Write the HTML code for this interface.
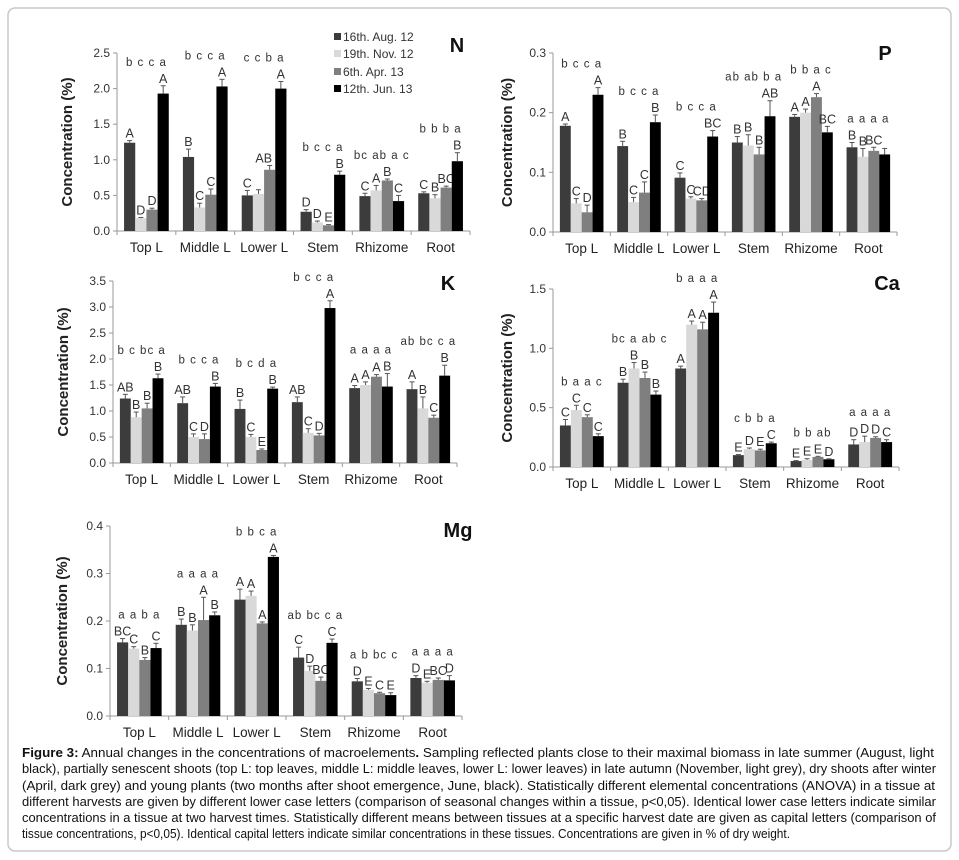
<!DOCTYPE html>
<html><head><meta charset="utf-8"><style>
html,body{margin:0;padding:0;background:#fff;}
svg{display:block;font-family:"Liberation Sans",Arial,sans-serif;}
</style></head><body>
<svg id="fig" width="959" height="860" viewBox="0 0 959 860">
<rect x="8" y="8" width="943" height="843" rx="7" fill="#fff" stroke="#c8c8c8" stroke-width="1.5"/>
<g id="charts"></g>
<g font-size="12" fill="#333">
<rect x="334" y="33" width="7" height="7" fill="#3c3c3c"/><text x="343" y="41">16th. Aug. 12</text>
<rect x="334" y="50" width="7" height="7" fill="#d9d9d9"/><text x="343" y="58">19th. Nov. 12</text>
<rect x="334" y="68" width="7" height="7" fill="#7f7f7f"/><text x="343" y="76">6th. Apr. 13</text>
<rect x="334" y="85" width="7" height="7" fill="#000"/><text x="343" y="93">12th. Jun. 13</text>
</g>
<g font-size="13" fill="#111">
<text x="22" y="757" textLength="912" lengthAdjust="spacingAndGlyphs"><tspan font-weight="bold">Figure 3:</tspan> Annual changes in the concentrations of macroelements<tspan font-weight="bold">.</tspan> Sampling reflected plants close to their maximal biomass in late summer (August, light</text>
<text x="22" y="773" textLength="914" lengthAdjust="spacingAndGlyphs">black), partially senescent shoots (top L: top leaves, middle L: middle leaves, lower L: lower leaves) in late autumn (November, light grey), dry shoots after winter</text>
<text x="22" y="790" textLength="913" lengthAdjust="spacingAndGlyphs">(April, dark grey) and young plants (two months after shoot emergence, June, black). Statistically different elemental concentrations (ANOVA) in a tissue at</text>
<text x="22" y="806" textLength="914" lengthAdjust="spacingAndGlyphs">different harvests are given by different lower case letters (comparison of seasonal changes within a tissue, p&lt;0,05). Identical lower case letters indicate similar</text>
<text x="22" y="822" textLength="914" lengthAdjust="spacingAndGlyphs">concentrations in a tissue at two harvest times. Statistically different means between tissues at a specific harvest date are given as capital letters (comparison of</text>
<text x="22" y="838" textLength="768" lengthAdjust="spacingAndGlyphs">tissue concentrations, p&lt;0,05). Identical capital letters indicate similar concentrations in these tissues. Concentrations are given in % of dry weight.</text>
</g>
</svg>
<script>
const categories = ["Top L","Middle L","Lower L","Stem","Rhizome","Root"];
const seriesNames = ["16th. Aug. 12","19th. Nov. 12","6th. Apr. 13","12th. Jun. 13"];
const seriesColors = ["#3c3c3c","#d9d9d9","#7f7f7f","#000000"];

const nValues = [[1.24,1.04,0.50,0.27,0.49,0.53],[0.18,0.33,0.52,0.12,0.57,0.46],[0.30,0.51,0.86,0.08,0.71,0.61],[1.93,2.03,2.00,0.79,0.42,0.98]];
const nErrors = [[0.03,0.11,0.07,0.03,0.04,0.02],[0.01,0.06,0.06,0.02,0.07,0.05],[0.02,0.08,0.06,0.01,0.02,0.02],[0.11,0.1,0.1,0.05,0.08,0.12]];
const nCaps = [["A","B","C","D","C","C"],["D","C","","D","A","B"],["D","C","AB\u00a0A","E","B","BC"],["A","A","A","B","C","B"]];
const nLower = ["b c c a","b c c a","c c b a","b c c a","bc ab a c","b b b a"];
const nTicks = ["0.0","0.5","1.0","1.5","2.0","2.5"];

const pValues = [[0.178,0.144,0.091,0.150,0.193,0.142],[0.048,0.050,0.056,0.145,0.200,0.126],[0.033,0.066,0.053,0.130,0.226,0.136],[0.230,0.184,0.160,0.194,0.167,0.130]];
const pErrors = [[0.003,0.008,0.008,0.01,0.004,0.008],[0.008,0.008,0.003,0.018,0.006,0.014],[0.012,0.018,0.003,0.012,0.006,0.006],[0.012,0.012,0.01,0.026,0.01,0.01]];
const pCaps = [["A","B","C","B","A","B"],["C","C","C","B","A","B"],["D","C","CD","B","A","BC"],["A","B","BC","AB","BC",""]];
const pLower = ["b c c a","b c c a","b c c a","ab ab b a","b b a c","a a a  a"];
const pTicks = ["0.0","0.1","0.2","0.3"];

const kValues = [[1.24,1.15,1.04,1.17,1.44,1.42],[0.88,0.50,0.50,0.58,1.50,1.05],[1.05,0.46,0.25,0.53,1.66,0.87],[1.63,1.47,1.43,2.98,1.47,1.68]];
const kErrors = [[0.08,0.12,0.17,0.1,0.05,0.14],[0.1,0.06,0.05,0.08,0.06,0.22],[0.1,0.1,0.02,0.04,0.04,0.05],[0.08,0.06,0.03,0.14,0.25,0.2]];
const kCaps = [["AB","AB","B","AB","A","A"],["B","C","C","C","A","B"],["B","D","E","D","A","C"],["B","B","B","A","B","B"]];
const kLower = ["b c bc a","b c c a","b c d a","b c c a","a a a a","ab bc c a"];
const kTicks = ["0.0","0.5","1.0","1.5","2.0","2.5","3.0","3.5"];

const caValues = [[0.35,0.71,0.83,0.10,0.05,0.19],[0.48,0.83,1.20,0.15,0.06,0.21],[0.42,0.75,1.16,0.14,0.085,0.245],[0.26,0.61,1.30,0.20,0.065,0.21]];
const caErrors = [[0.05,0.03,0.02,0.005,0.004,0.04],[0.04,0.05,0.03,0.01,0.01,0.05],[0.02,0.05,0.06,0.01,0.005,0.01],[0.02,0.03,0.09,0.01,0.004,0.02]];
const caCaps = [["C","B","A","E","E","D"],["C","B","A","D","E","D"],["C","B","A","E","E","D"],["C","B","A","C","D","C"]];
const caLower = ["b a  a  c","bc a ab c","b a a a","c b  b a","b b  ab","a a a  a"];
const caTicks = ["0.0","0.5","1.0","1.5"];

const mgValues = [[0.155,0.192,0.245,0.123,0.073,0.080],[0.142,0.180,0.253,0.095,0.055,0.070],[0.118,0.202,0.195,0.074,0.048,0.076],[0.143,0.212,0.335,0.154,0.044,0.075]];
const mgErrors = [[0.008,0.012,0.022,0.022,0.006,0.005],[0.004,0.012,0.01,0.01,0.003,0.003],[0.005,0.048,0.003,0.008,0.002,0.004],[0.01,0.007,0.003,0.008,0.005,0.01]];
const mgCaps = [["BC","B","A","C","D","D"],["C","B","A","D","E","E"],["B","A","A","BC","C","BC"],["C","B","A","C","E","D"]];
const mgLower = ["a a b  a","a a a a","b  b c a","ab bc c a","a  b bc c","a  a  a a"];
const mgTicks = ["0.0","0.1","0.2","0.3","0.4"];

const NS = "http://www.w3.org/2000/svg";
const root = document.getElementById('charts');
function mk(tag, attrs, parent, txt){
  const e = document.createElementNS(NS, tag);
  for (const k in attrs) e.setAttribute(k, attrs[k]);
  if (txt !== undefined) e.textContent = txt;
  parent.appendChild(e);
  return e;
}
function panel(cfg, values, errors, caps, lower, ticks){
  const g = mk('g', {}, root);
  
  
  const ymax = parseFloat(ticks[ticks.length-1]);
  const yS = v => cfg.y0 - (v / ymax) * (cfg.y0 - cfg.y1);
  const step = (cfg.x1 - cfg.x0) / categories.length;
  const xC = i => cfg.x0 + step * (i + 0.5);
  const bw = step * 0.19;
  // axes
  const ya = mk('line', {x1:cfg.x0, y1:cfg.y1, x2:cfg.x0, y2:cfg.y0, stroke:'#999', 'stroke-width':1}, g);
  
  
  const xa = mk('line', {x1:cfg.x0, y1:cfg.y0, x2:cfg.x1, y2:cfg.y0, stroke:'#999', 'stroke-width':1}, g);
  
  
  ticks.forEach(t => {
    const y = yS(parseFloat(t));
    mk('line', {x1:cfg.x0-4, y1:y, x2:cfg.x0, y2:y, stroke:'#999'}, g);
    const tl = mk('text', {x:cfg.x0-7, y:y+4, 'text-anchor':'end', 'font-size':12, fill:'#333'}, g, t);
    
    
  });
  for (let i = 0; i <= categories.length; i++) {
    const x = cfg.x0 + step * i;
    mk('line', {x1:x, y1:cfg.y0, x2:x, y2:cfg.y0+4, stroke:'#999'}, g);
  }
  categories.forEach((c, i) => {
    const cl = mk('text', {x:xC(i), y:cfg.y0+21, 'text-anchor':'middle', 'font-size':13.5, fill:'#222'}, g, c);
    
    
    let minTop = 1e9;
    for (let s = 0; s < 4; s++) {
      const v = values[s][i];
      const x = xC(i) - 2*bw + s*bw;
      const top = yS(v);
      const b = mk('rect', {x:x, y:top, width:bw, height:cfg.y0-top, fill:seriesColors[s]}, g);
      
      
      const et = yS(v + errors[s][i]);
      mk('line', {x1:x+bw/2, y1:top, x2:x+bw/2, y2:et, stroke:'#555', 'stroke-width':1}, g);
      mk('line', {x1:x+bw/2-2.5, y1:et, x2:x+bw/2+2.5, y2:et, stroke:'#555', 'stroke-width':1}, g);
      const cy = et - 3;
      if (caps[s][i]) {
        const ct = mk('text', {x:x+bw/2, y:cy, 'text-anchor':'middle', 'font-size':12.5, fill:'#333'}, g, caps[s][i]);
        
        
      }
      minTop = Math.min(minTop, cy - 12);
    }
    const lt = mk('text', {x:xC(i), y:minTop - 5, 'text-anchor':'middle', 'font-size':11.5, fill:'#333', 'xml:space':'preserve', 'letter-spacing':1}, g, lower[i]);
    
    
  });
  const yt = mk('text', {x:cfg.tx, y:(cfg.y0+cfg.y1)/2, transform:`rotate(-90 ${cfg.tx} ${(cfg.y0+cfg.y1)/2})`, 'text-anchor':'middle', 'font-size':15, 'font-weight':'bold', fill:'#222'}, g, 'Concentration (%)');
  
  
  const pl = mk('text', {x:cfg.lx, y:cfg.ly, 'text-anchor':'middle', 'font-size':20, 'font-weight':'bold', fill:'#111'}, g, cfg.label);
  
  
}
panel({name:'n', label:'N', x0:117, x1:470, y0:231, y1:53, tx:72, lx:457, ly:52}, nValues, nErrors, nCaps, nLower, nTicks);
panel({name:'p', label:'P', x0:553, x1:897, y0:232, y1:53, tx:512, lx:885, ly:60}, pValues, pErrors, pCaps, pLower, pTicks);
panel({name:'k', label:'K', x0:113, x1:457, y0:463, y1:281, tx:68, lx:448, ly:290}, kValues, kErrors, kCaps, kLower, kTicks);
panel({name:'ca', label:'Ca', x0:553, x1:899, y0:467, y1:289, tx:512, lx:887, ly:290}, caValues, caErrors, caCaps, caLower, caTicks);
panel({name:'mg', label:'Mg', x0:110, x1:462, y0:716, y1:526, tx:67, lx:458, ly:537}, mgValues, mgErrors, mgCaps, mgLower, mgTicks);
</script>
</body></html>
